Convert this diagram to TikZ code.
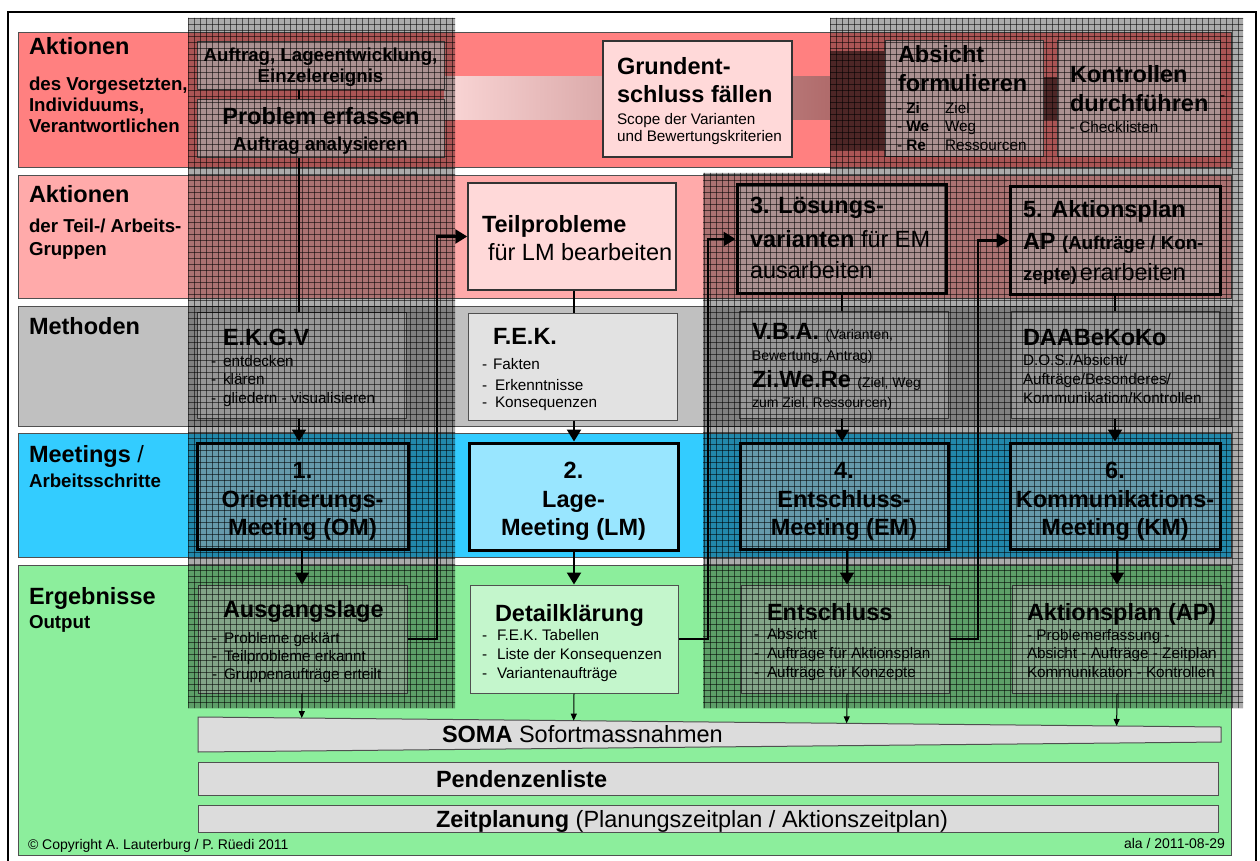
\documentclass[tikz,border=0pt]{standalone}
\usepackage{fontspec}
\setmainfont{Liberation Sans}
\usetikzlibrary{arrows.meta,fit,calc}

\definecolor{rowA}{RGB}{255,128,128}
\definecolor{rowB}{RGB}{255,170,170}
\definecolor{rowC}{RGB}{192,192,192}
\definecolor{rowD}{RGB}{51,204,255}
\definecolor{rowE}{RGB}{140,238,156}
\definecolor{boxA}{RGB}{255,217,217}
\definecolor{boxC}{RGB}{226,226,226}
\definecolor{boxD}{RGB}{153,230,255}
\definecolor{boxE}{RGB}{196,246,204}
\definecolor{barF}{RGB}{220,220,220}
\definecolor{edge}{RGB}{80,80,80}
\definecolor{bandL}{RGB}{250,214,214}
\definecolor{bandR}{RGB}{165,92,92}
\definecolor{bandK}{RGB}{115,58,58}

\newcommand\szA{\fontsize{23.5}{28}\selectfont}
\newcommand\szB{\fontsize{18.7}{22}\selectfont}
\newcommand\szC{\fontsize{15.3}{18}\selectfont}
\newcommand\szD{\fontsize{14}{17}\selectfont}

\begin{document}
\begin{tikzpicture}[x=1pt,y=-1pt,
  band/.style={draw=edge, line width=0.8pt, inner sep=0pt},
  obox/.style={draw=edge, line width=1pt, inner sep=0pt},
  hbox/.style={draw=black, line width=3pt, inner sep=0pt},
  txt/.style={anchor=base west, inner sep=0pt, outer sep=0pt},
  ctxt/.style={anchor=base, inner sep=0pt, outer sep=0pt},
  rtxt/.style={anchor=base east, inner sep=0pt, outer sep=0pt},
  conn/.style={draw=black, line width=2.2pt},
  arr/.style={conn, -{Triangle[length=12pt,width=14pt]}},
  thinarr/.style={draw=black, line width=1pt, -{Triangle[length=7pt,width=6pt]}},
  elbow/.style={draw=black, line width=2.6pt, -{Triangle[length=12pt,width=14pt]}},
  screen/.style={black, opacity=0.55, line width=0.7pt}]

\useasboundingbox (0,0) rectangle (1260,861);
\fill[white] (0,0) rectangle (1260,861);

% ---------- swimlanes ----------
\node[band, fill=rowA, fit={(18,32)(1231,167)}] (laneA) {};
\node[band, fill=rowB, fit={(18,175)(1231,298)}] (laneB) {};
\node[band, fill=rowC, fit={(18,306)(1231,426)}] (laneC) {};
\node[band, fill=rowD, fit={(18,433)(1231,557)}] (laneD) {};
\node[band, fill=rowE, fit={(18,565)(1231,855)}] (laneE) {};

% lane titles
\node[txt] (lA1) at (29,55) {\szA\bfseries Aktionen};
\node[txt] (lA2) at (29,91) {\szB\bfseries des Vorgesetzten,};
\node[txt] (lA3) at (29,112) {\szB\bfseries Individuums,};
\node[txt] (lA4) at (29,133) {\szB\bfseries Verantwortlichen};
\node[txt] (lB1) at (29,203) {\szA\bfseries Aktionen};
\node[txt] (lB2) at (29,233) {\szB\bfseries der Teil-/ Arbeits-};
\node[txt] (lB3) at (29,255) {\szB\bfseries Gruppen};
\node[txt] (lC1) at (29,334) {\szA\bfseries Methoden};
\node[txt] (lD1) at (29,462) {\szA\textbf{Meetings} /};
\node[txt] (lD2) at (29,487) {\szB\bfseries Arbeitsschritte};
\node[txt] (lE1) at (29,604) {\szA\bfseries Ergebnisse};
\node[txt] (lE2) at (29,628) {\szB\bfseries Output};

% ---------- decision band in the top lane ----------
\shade[left color=bandL, right color=bandR] (444,77) rectangle (884,120);
\fill[bandK] (830,51) rectangle (884,150);
\fill[bandK] (1043,77) rectangle (1057,120);

% ---------- boxes ----------
\node[obox, fill=boxA, fit={(197,42)(444,90)}] (auftrag) {};
\node[obox, fill=boxA, fit={(197,100)(444,158)}] (problem) {};
\node[obox, fill=boxA, line width=1.2pt, draw=black!80, fit={(603,41)(792,157)}] (grund) {};
\node[obox, fill=boxA, fit={(885,41)(1043,157)}] (absicht) {};
\node[obox, fill=boxA, fit={(1057,41)(1220,157)}] (kontr) {};

\node[obox, fill=boxA, line width=1.5pt, draw=black!80, fit={(468,183)(676,290)}] (teil) {};
\node[hbox, fill=boxA, fit={(737,185)(946,293)}] (loes) {};
\node[hbox, fill=boxA, fit={(1010,187)(1220,294)}] (aplan) {};

\node[obox, fill=boxC, fit={(197,312)(406,418)}] (ekgv) {};
\node[obox, fill=boxC, fit={(468,313)(677,420)}] (fek) {};
\node[obox, fill=boxC, fit={(739,311)(948,418)}] (vba) {};
\node[obox, fill=boxC, fit={(1011,311)(1219,418)}] (daab) {};

\node[hbox, fill=boxD, fit={(197,443)(408,549)}] (m1) {};
\node[hbox, fill=boxD, fit={(469,443)(678,550)}] (m2) {};
\node[hbox, fill=boxD, fit={(740,443)(948,549)}] (m4) {};
\node[hbox, fill=boxD, fit={(1010,443)(1220,549)}] (m6) {};

\node[obox, fill=boxE, fit={(198,585)(407,693)}] (ausg) {};
\node[obox, fill=boxE, fit={(470,585)(678,693)}] (detail) {};
\node[obox, fill=boxE, fit={(741,585)(949,693)}] (entsch) {};
\node[obox, fill=boxE, fit={(1012,585)(1221,693)}] (aktp) {};

% bars at the bottom
\coordinate (sTL) at (198,717);
\coordinate (sTR) at (1221,727);
\coordinate (sBR) at (1221,742);
\coordinate (sBL) at (198,752);
\filldraw[fill=barF, draw=edge, line width=1pt] (sTL) -- (sTR) -- (sBR) -- (sBL) -- cycle;
\node[obox, fill=barF, fit={(198,762)(1218,795)}] (pend) {};
\node[obox, fill=barF, fit={(198,805)(1218,832)}] (zeit) {};

% ---------- box texts ----------
\node[ctxt] (tAu1) at (320.5,62) {\szB\bfseries Auftrag, Lageentwicklung,};
\node[ctxt] (tAu2) at (320.5,83) {\szB\bfseries Einzelereignis};
\node[ctxt] (tPr1) at (321,125) {\szA\bfseries Problem erfassen};
\node[ctxt] (tPr2) at (320.5,151) {\szB\bfseries Auftrag analysieren};

\node[txt] (tGr1) at (617,75) {\szA\bfseries Grundent-};
\node[txt] (tGr2) at (617,103) {\szA\bfseries schluss fällen};
\node[txt] (tGr3) at (617,125) {\szC Scope der Varianten};
\node[txt] (tGr4) at (617,142) {\szC und Bewertungskriterien};

\node[txt] (tAb1) at (898,63) {\szA\bfseries Absicht};
\node[txt] (tAb2) at (898,92) {\szA\bfseries formulieren};
\node[txt] (tAb3) at (897,114) {\szC - \textbf{Zi}};
\node[txt] (tAb4) at (945,114) {\szC Ziel};
\node[txt] (tAb5) at (897,132) {\szC - \textbf{We}};
\node[txt] (tAb6) at (945,132) {\szC Weg};
\node[txt] (tAb7) at (897,151) {\szC - \textbf{Re}};
\node[txt] (tAb8) at (945,151) {\szC Ressourcen};

\node[txt] (tKo1) at (1070,83) {\szA\bfseries Kontrollen};
\node[txt] (tKo2) at (1070,112) {\szA\bfseries durchführen};
\node[txt] (tKo3) at (1070,133) {\szC - Checklisten};
\node[txt] (tKo4) at (1220,101) {\szC -};

\node[txt] (tTe1) at (482,232) {\szA\bfseries Teilprobleme};
\node[txt] (tTe2) at (488,260) {\szA für LM bearbeiten};

\node[txt] (tLo1) at (750,214) {\szA\bfseries 3. Lösungs-};
\node[txt] (tLo2) at (750,247) {\szA\textbf{varianten} für EM};
\node[txt] (tLo3) at (750,278) {\szA ausarbeiten};

\node[txt] (tAp1) at (1023,217) {\szA\bfseries 5. Aktionsplan};
\node[txt] (tAp2) at (1023,249) {\szA\textbf{AP} {\szB\bfseries (Aufträge / Kon-}};
\node[txt] (tAp3) at (1023,280) {{\szB\bfseries zepte)} \szA erarbeiten};

\node[txt] (tEk1) at (223,345) {\szA\bfseries E.K.G.V};
\node[txt] (tEk2) at (211,366) {\szC -};
\node[txt] (tEk3) at (223,366) {\szC entdecken};
\node[txt] (tEk4) at (211,384) {\szC -};
\node[txt] (tEk5) at (223,384) {\szC klären};
\node[txt] (tEk6) at (211,403) {\szC -};
\node[txt] (tEk7) at (223,403) {\szC gliedern - visualisieren};

\node[txt] (tFe1) at (493,344) {\szA\bfseries F.E.K.};
\node[txt] (tFe2) at (482,369) {\szC -};
\node[txt] (tFe3) at (493,369) {\szC Fakten};
\node[txt] (tFe4) at (482,390) {\szC -};
\node[txt] (tFe5) at (495,390) {\szC Erkenntnisse};
\node[txt] (tFe6) at (482,407) {\szC -};
\node[txt] (tFe7) at (495,407) {\szC Konsequenzen};

\node[txt] (tVb1) at (752,339) {\szA\textbf{V.B.A.} \szD (Varianten,};
\node[txt] (tVb2) at (752,360) {\szD Bewertung, Antrag)};
\node[txt] (tVb3) at (752,387) {\szA\textbf{Zi.We.Re} \szD (Ziel, Weg};
\node[txt] (tVb4) at (752,407) {\szD zum Ziel, Ressourcen)};

\node[txt] (tDa1) at (1023,345) {\szA\bfseries DAABeKoKo};
\node[txt] (tDa2) at (1023,365) {\szC D.O.S./Absicht/};
\node[txt] (tDa3) at (1023,384) {\szC Aufträge/Besonderes/};
\node[txt] (tDa4) at (1023,403) {\szC Kommunikation/Kontrollen};

\node[ctxt] (tM11) at (302.5,478) {\szA\bfseries 1.};
\node[ctxt] (tM12) at (302.5,507) {\szA\bfseries Orientierungs-};
\node[ctxt] (tM13) at (302.5,535) {\szA\bfseries Meeting (OM)};
\node[ctxt] (tM21) at (573.5,478) {\szA\bfseries 2.};
\node[ctxt] (tM22) at (573.5,507) {\szA\bfseries Lage-};
\node[ctxt] (tM23) at (573.5,535) {\szA\bfseries Meeting (LM)};
\node[ctxt] (tM41) at (844,478) {\szA\bfseries 4.};
\node[ctxt] (tM42) at (844,507) {\szA\bfseries Entschluss-};
\node[ctxt] (tM43) at (844,535) {\szA\bfseries Meeting (EM)};
\node[ctxt] (tM61) at (1115,478) {\szA\bfseries 6.};
\node[ctxt] (tM62) at (1115,507) {\szA\bfseries Kommunikations-};
\node[ctxt] (tM63) at (1115,535) {\szA\bfseries Meeting (KM)};

\node[txt] (tAg1) at (223,617) {\szA\bfseries Ausgangslage};
\node[txt] (tAg2) at (212,643) {\szC -};
\node[txt] (tAg3) at (224,643) {\szC Probleme geklärt};
\node[txt] (tAg4) at (212,661) {\szC -};
\node[txt] (tAg5) at (224,661) {\szC Teilprobleme erkannt};
\node[txt] (tAg6) at (212,679) {\szC -};
\node[txt] (tAg7) at (224,679) {\szC Gruppenaufträge erteilt};

\node[txt] (tDe1) at (495,621) {\szA\bfseries Detailklärung};
\node[txt] (tDe2) at (482,640) {\szC -};
\node[txt] (tDe3) at (497,640) {\szC F.E.K. Tabellen};
\node[txt] (tDe4) at (482,659) {\szC -};
\node[txt] (tDe5) at (497,659) {\szC Liste der Konsequenzen};
\node[txt] (tDe6) at (482,678) {\szC -};
\node[txt] (tDe7) at (497,678) {\szC Variantenaufträge};

\node[txt] (tEn1) at (767,620) {\szA\bfseries Entschluss};
\node[txt] (tEn2) at (754,639) {\szC -};
\node[txt] (tEn3) at (767,639) {\szC Absicht};
\node[txt] (tEn4) at (754,658) {\szC -};
\node[txt] (tEn5) at (767,658) {\szC Aufträge für Aktionsplan};
\node[txt] (tEn6) at (754,677) {\szC -};
\node[txt] (tEn7) at (767,677) {\szC Aufträge für Konzepte};

\node[txt] (tAk1) at (1027,620) {\szA\bfseries Aktionsplan (AP)};
\node[txt] (tAk2) at (1027,640) {\szC - Problemerfassung -};
\node[txt] (tAk3) at (1027,658) {\szC Absicht - Aufträge - Zeitplan};
\node[txt] (tAk4) at (1027,677) {\szC Kommunikation - Kontrollen};

\node[txt] (tSo) at (442,742) {\szA\textbf{SOMA} Sofortmassnahmen};
\node[txt] (tPe) at (436,787) {\szA\bfseries Pendenzenliste};
\node[txt] (tZe) at (436,827) {\szA\textbf{Zeitplanung} (Planungszeitplan / Aktionszeitplan)};

\node[txt] (tCopy) at (28,849) {\szD © Copyright A. Lauterburg / P. Rüedi 2011};
\node[rtxt] (tDate) at (1225,848) {\szD ala / 2011-08-29};

% ---------- connectors ----------
\coordinate (xa) at (299,0);
\coordinate (xb) at (302,0);
\coordinate (xc) at (574,0);
\coordinate (xd) at (842,0);
\coordinate (xe) at (847,0);
\coordinate (xf) at (1115,0);
\coordinate (xg) at (1117,0);

\draw[conn] (auftrag.south -| xa) -- (problem.north -| xa);
\draw[conn] (problem.south -| xa) -- (ekgv.north -| xa);
\draw[arr] (ekgv.south -| xa) -- (m1.north -| xa);
\draw[arr] (m1.south -| xb) -- (ausg.north -| xb);

\draw[conn] (teil.south -| xc) -- (fek.north -| xc);
\draw[arr] (fek.south -| xc) -- (m2.north -| xc);
\draw[arr] (m2.south -| xc) -- (detail.north -| xc);

\draw[conn] (loes.south -| xd) -- (vba.north -| xd);
\draw[arr] (vba.south -| xd) -- (m4.north -| xd);
\draw[arr] (m4.south -| xe) -- (entsch.north -| xe);

\draw[conn] (aplan.south -| xf) -- (daab.north -| xf);
\draw[arr] (daab.south -| xf) -- (m6.north -| xf);
\draw[arr] (m6.south -| xg) -- (aktp.north -| xg);

% results feeding the immediate measures bar
\coordinate (pa) at (ausg.south -| xb);
\coordinate (pb) at (detail.south -| xc);
\coordinate (pc) at (entsch.south -| xe);
\coordinate (pd) at (aktp.south -| xg);
\draw[thinarr] (pa) -- ($(sTL)!(pa)!(sTR)$);
\draw[thinarr] (pb) -- ($(sTL)!(pb)!(sTR)$);
\draw[thinarr] (pc) -- ($(sTL)!(pc)!(sTR)$);
\draw[thinarr] (pd) -- ($(sTL)!(pd)!(sTR)$);

% feedback from each result to the next work package
\coordinate (ka) at (437,639);
\coordinate (kb) at (708,639);
\coordinate (kc) at (978,639);
\draw[elbow] (ausg.east) -| (ka |- teil.west) -- (teil.west);
\draw[elbow] (detail.east) -| (kb |- loes.west) -- (loes.west);
\draw[elbow] (entsch.east) -| (kc |- aplan.west) -- (aplan.west);

% ---------- screened areas ----------
\begin{scope}
  \clip (188,18) rectangle (455,708)
        (830,18) -- (1243,18) -- (1243,708) -- (703,708) -- (703,173) -- (830,173) -- cycle;
  \fill[black, opacity=0.33] (180,10) rectangle (1250,715);
  \foreach \gx in {188,194,...,1246} \draw[screen] (\gx,10) -- (\gx,715);
  \foreach \gy in {18,24,...,714} \draw[screen] (180,\gy) -- (1250,\gy);
\end{scope}

% ---------- outer frame ----------
\draw[line width=2pt] (8,861) -- (8,12) -- (1256,12) -- (1256,861);

\end{tikzpicture}
\end{document}
